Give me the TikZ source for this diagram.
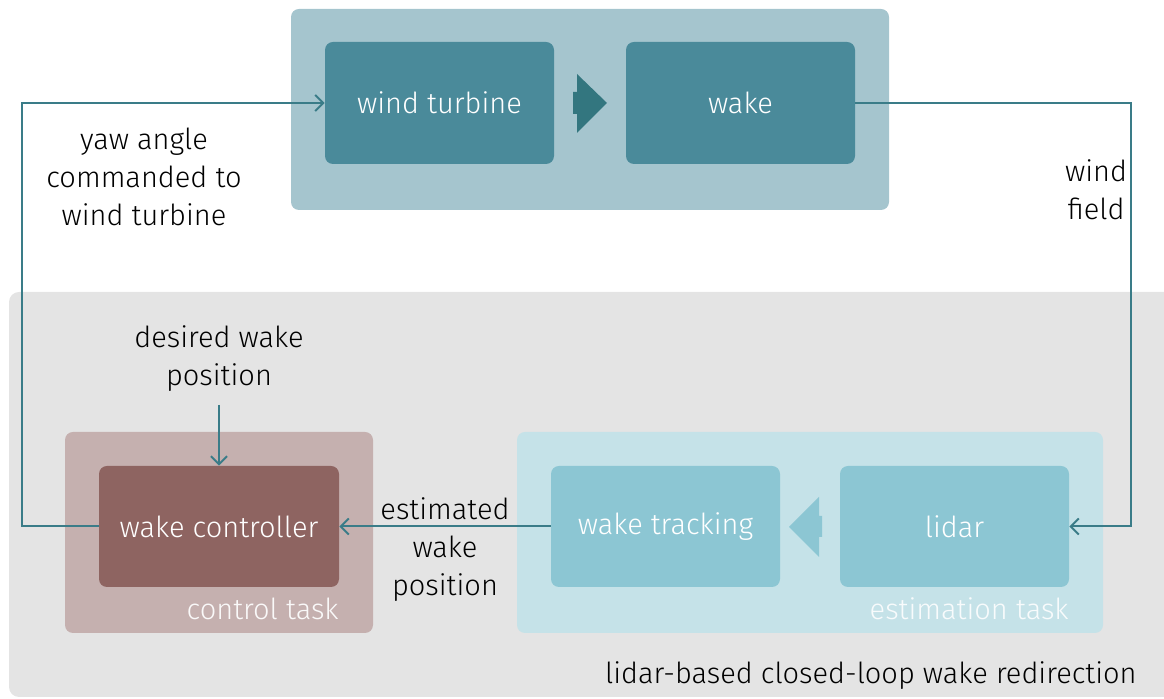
\documentclass[tikz,border=0pt]{standalone}
\usepackage{fontspec}
\setmainfont{Fira Sans}[UprightFont = * Light]
\usetikzlibrary{arrows.meta}
\definecolor{teal1}{HTML}{4A8A9A}
\definecolor{teal2}{HTML}{A5C5CE}
\definecolor{tealarr}{HTML}{33767F}
\definecolor{linec}{HTML}{3A7C88}
\definecolor{bgray}{HTML}{E4E4E4}
\definecolor{brown1}{HTML}{8E6461}
\definecolor{brown2}{HTML}{C5B0AF}
\definecolor{cyan1}{HTML}{8CC6D3}
\definecolor{cyan2}{HTML}{C5E2E8}
\tikzset{
  grp/.style={rounded corners=4pt, inner sep=0pt, minimum height=100.5pt},
  blk/.style={rounded corners=4pt, inner sep=0pt, minimum width=114.5pt, minimum height=61pt, text=white, font=\fontsize{14.5}{19}\selectfont},
  lbl/.style={align=center, font=\fontsize{14.5}{19}\selectfont, text=black},
  tasklbl/.style={anchor=base east, inner sep=0pt, font=\fontsize{14.5}{19}\selectfont},
  flow/.style={draw=linec, line width=1pt, -{Straight Barb[length=4pt,width=8pt,line width=1pt]}},
}
\begin{document}
\begin{tikzpicture}[x=0.5pt, y=-0.5pt]
\useasboundingbox (0,0) rectangle (1164,699);
\clip (0,0) rectangle (1164,699);

% lower grey panel
\fill[bgray, rounded corners=5pt] (9,292) rectangle (1190,697);

% plant: turbine and wake
\node[grp, fill=teal2, minimum width=299pt] (plant) at (590,109.5) {};
\node[blk, fill=teal1] (wt) at (439.5,103) {wind turbine};
\node[blk, fill=teal1] (wake) at (740.5,103) {wake};
\fill[tealarr] (573,92) -- (577,92) -- (577,74) -- (607,103) -- (577,133) -- (577,114) -- (573,114) -- cycle;

% control task
\node[grp, fill=brown2, minimum width=154pt] (ctrl) at (219,532.5) {};
\node[blk, fill=brown1, minimum width=120pt, minimum height=60.5pt] (wc) at (219,526.5) {wake controller};
\node[tasklbl, text=white!92!brown2] (ctl) at (339,620) {control task};

% estimation task
\node[grp, fill=cyan2, minimum width=293pt] (est) at (810,532.5) {};
\node[blk, fill=cyan1, minimum height=60.5pt] (wtr) at (665.5,526.5) {wake tracking};
\node[blk, fill=cyan1, minimum height=60.5pt] (lid) at (954.5,526.5) {lidar};
\node[tasklbl, text=white!88!cyan2] (etl) at (1069,620) {estimation task};
\fill[cyan1] (822,516) -- (819,516) -- (819,497) -- (789,527) -- (819,557) -- (819,537) -- (822,537) -- cycle;

% signal labels
\node[lbl] (yaw) at (144,177) {yaw angle\\commanded to\\wind turbine};
\node[lbl] (wf) at (1096,189.5) {wind\\field};
\node[lbl] (dwp) at (219,358.5) {desired wake\\position};
\node[lbl] (ewp) at (445,549.5) {estimated\\wake\\position};
\node[anchor=base east, inner sep=0pt, font=\fontsize{14.5}{19}\selectfont] (title) at (1137,684) {lidar-based closed-loop wake redirection};

% signal flow
\coordinate (rc) at (1131,103);
\coordinate (lc) at (22,526.5);
\coordinate (dtop) at (219,405);
\draw[flow] (wake.east) -- (rc) |- (lid.east);
\draw[flow] (wc.west) -- (lc) |- (wt.west);
\draw[flow] (wtr.west) -- (wc.east);
\draw[flow] (dtop) -- (wc.north);
\end{tikzpicture}
\end{document}
